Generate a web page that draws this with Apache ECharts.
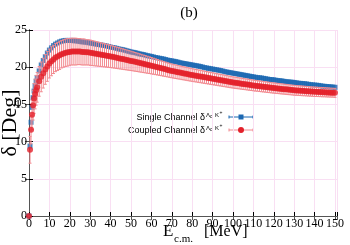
<!DOCTYPE html>
<html>
<head>
<meta charset="utf-8">
<script src="https://cdn.jsdelivr.net/npm/echarts@6/dist/echarts.min.js"></script>
<style>html,body{margin:0;padding:0;background:#fff}#c{width:350px;height:245px}</style>
</head>
<body>
<div id="c"></div>
<script>
// Energy grid (MeV)
var energies = [0,0.5,1,1.5,2,2.5,3,3.5,
  4,5,6,7,8,9,10,11,12,13,14,15,16,17,18,19,20,21,22,23,24,25,26,27,28,29,30,
  31,32,33,34,35,36,37,38,39,40,
  41,42,43,44,45,46,47,48,49,50,
  51,52,53,54,55,56,57,58,59,60,
  61,62,63,64,65,66,67,68,69,70,
  71,72,73,74,75,76,77,78,79,80,
  81,82,83,84,85,86,87,88,89,90,
  91,92,93,94,95,96,97,98,99,100,
  101,102,103,104,105,106,107,108,109,110,
  111,112,113,114,115,116,117,118,119,120,
  121,122,123,124,125,126,127,128,129,130,
  131,132,133,134,135,136,137,138,139,140,
  141,142,143,144,145,146,147,148,149,150];
// Single channel phase shift (deg)
var singleChannel = [0,9.4,12.6,14.6,15.9,16.8,17.5,18.1,
  18.6,19.5,20.3,20.9,21.4,21.9,22.3,22.6,22.9,23.1,23.25,23.4,23.5,23.55,23.6,23.6,23.6,23.6,23.55,23.55,23.5,23.45,23.4,23.4,23.35,23.3,23.25,
  23.2,23.15,23.1,23.05,23.0,22.95,22.9,22.85,22.78,22.7,
  22.65,22.6,22.53,22.45,22.4,22.35,22.28,22.2,22.13,22.05,
  22.0,21.95,21.88,21.8,21.75,21.7,21.63,21.55,21.5,21.45,
  21.38,21.3,21.25,21.2,21.15,21.1,21.03,20.95,20.9,20.85,
  20.8,20.75,20.68,20.6,20.55,20.5,20.45,20.4,20.35,20.3,
  20.25,20.2,20.15,20.1,20.03,19.95,19.9,19.85,19.8,19.75,
  19.7,19.65,19.6,19.55,19.48,19.4,19.35,19.3,19.25,19.2,
  19.15,19.1,19.05,19.0,18.95,18.9,18.85,18.8,18.75,18.7,
  18.65,18.6,18.58,18.55,18.5,18.45,18.4,18.35,18.33,18.3,
  18.25,18.2,18.18,18.15,18.1,18.05,18.03,18.0,17.98,17.95,
  17.9,17.85,17.83,17.8,17.78,17.75,17.7,17.65,17.63,17.6,
  17.58,17.55,17.5,17.45,17.43,17.4,17.38,17.35,17.33,17.3];
// Coupled channel phase shift (deg)
var coupledChannel = [0,8.9,11.6,13.6,14.9,15.8,16.4,16.9,
  17.3,18.1,18.7,19.2,19.7,20.1,20.5,20.8,21.05,21.3,21.45,21.6,21.75,21.85,21.95,22.0,22.05,22.1,22.1,22.1,22.1,22.1,22.05,22.05,22.0,22.0,21.95,
  21.9,21.85,21.8,21.75,21.7,21.65,21.6,21.55,21.5,21.45,
  21.39,21.33,21.27,21.21,21.15,21.09,21.03,20.97,20.91,20.85,
  20.79,20.72,20.66,20.59,20.53,20.46,20.4,20.33,20.27,20.2,
  20.13,20.06,19.99,19.92,19.85,19.78,19.71,19.64,19.57,19.5,
  19.44,19.39,19.33,19.28,19.22,19.17,19.11,19.06,19.0,18.95,
  18.9,18.85,18.8,18.75,18.7,18.65,18.6,18.55,18.5,18.45,
  18.4,18.35,18.3,18.25,18.2,18.15,18.1,18.05,18.0,17.95,
  17.91,17.87,17.83,17.79,17.75,17.71,17.67,17.63,17.59,17.55,
  17.51,17.48,17.44,17.41,17.37,17.34,17.3,17.27,17.23,17.2,
  17.17,17.14,17.11,17.08,17.05,17.02,16.99,16.96,16.93,16.9,
  16.88,16.86,16.84,16.82,16.8,16.78,16.76,16.74,16.72,16.7,
  16.69,16.67,16.66,16.64,16.63,16.61,16.6,16.58,16.57,16.55];
// Coupled channel uncertainty (deg)
var coupledError = [0,1.8,1.9,2.0,2.0,2.0,2.0,2.0,
  2.0,2.0,2.0,2.0,2.0,2.0,1.95,1.95,1.9,1.9,1.9,1.9,1.85,1.85,1.85,1.85,1.8,1.8,1.8,1.8,1.75,1.75,1.75,1.75,1.7,1.7,1.7,
  1.68,1.66,1.64,1.62,1.6,1.58,1.56,1.54,1.52,1.5,
  1.48,1.46,1.44,1.42,1.4,1.38,1.36,1.34,1.32,1.3,
  1.28,1.26,1.24,1.22,1.2,1.18,1.16,1.14,1.12,1.1,
  1.08,1.06,1.04,1.02,1.0,0.99,0.97,0.95,0.94,0.92,
  0.91,0.91,0.9,0.89,0.89,0.88,0.87,0.87,0.86,0.85,
  0.85,0.84,0.84,0.83,0.83,0.82,0.82,0.81,0.81,0.8,
  0.8,0.79,0.79,0.78,0.78,0.77,0.77,0.76,0.76,0.75,
  0.75,0.75,0.74,0.74,0.74,0.73,0.73,0.73,0.72,0.72,
  0.72,0.71,0.71,0.71,0.7,0.7,0.7,0.69,0.69,0.69,
  0.69,0.68,0.68,0.68,0.67,0.67,0.67,0.66,0.66,0.66,
  0.66,0.65,0.65,0.65,0.64,0.64,0.64,0.63,0.63,0.63,
  0.63,0.62,0.62,0.62,0.61,0.61,0.61,0.6,0.6,0.6];
var xTicks = [0,10,20,30,40,50,60,70,80,90,100,110,120,130,140,150];
var yTicks = [0,5,10,15,20,25];

var BLUE = '#1c68b2', RED = '#e3202a', PINK = '#f28a90';
var SERIF = '"Liberation Serif", "DejaVu Serif", serif';
var SANS = '"Liberation Sans", Arial, sans-serif';

var singleData = energies.map(function (e, i) { return [e, singleChannel[i]]; });
var coupledData = energies.map(function (e, i) { return [e, coupledChannel[i]]; });
var errData = energies.map(function (e, i) { return [e, coupledChannel[i] - coupledError[i], coupledChannel[i] + coupledError[i]]; });

var chart = echarts.init(document.getElementById('c'), null, {renderer: 'canvas'});
var gridLine = {show: true, lineStyle: {color: '#f9dff3', width: 1}};
var option = {
  animation: false,
  backgroundColor: '#fff',
  grid: {left: 29, right: 13, top: 30, bottom: 29},
  xAxis: [{
    type: 'value', min: 0, max: 151, interval: 10,
    axisLine: {lineStyle: {color: '#000', width: 1}},
    axisTick: {inside: true, length: 4, lineStyle: {color: '#000'}},
    axisLabel: {fontFamily: SERIF, fontSize: 12, color: '#000', margin: 2,
      formatter: function (v) { return xTicks.indexOf(v) >= 0 ? String(v) : ''; }},
    splitLine: gridLine
  }, {
    type: 'value', position: 'top', min: 0, max: 151, interval: 10,
    axisLine: {show: true, lineStyle: {color: '#555', width: 1}},
    axisTick: {inside: true, length: 4, lineStyle: {color: '#555'}},
    axisLabel: {show: false}, splitLine: {show: false}
  }],
  yAxis: [{
    type: 'value', min: 0, max: 25, interval: 5,
    axisLine: {show: true, lineStyle: {color: '#000', width: 1}},
    axisTick: {show: true, inside: true, length: 4, lineStyle: {color: '#000'}},
    axisLabel: {fontFamily: SERIF, fontSize: 12, color: '#000', margin: 2,
      formatter: function (v) { return yTicks.indexOf(v) >= 0 ? String(v) : ''; }},
    splitLine: gridLine
  }, {
    type: 'value', position: 'right', min: 0, max: 25, interval: 5,
    axisLine: {show: true, lineStyle: {color: '#555', width: 1}},
    axisTick: {show: true, inside: true, length: 4, lineStyle: {color: '#555'}},
    axisLabel: {show: false}, splitLine: {show: false}
  }],
  series: [{
    name: 'single', type: 'scatter', data: singleData, symbol: 'rect', symbolSize: 5,
    itemStyle: {color: BLUE}, clip: false, z: 2
  }, {
    name: 'coupledErr', type: 'custom', data: errData, z: 3, clip: false,
    renderItem: function (params, api) {
      var x = api.value(0);
      var lo = api.coord([x, api.value(1)]);
      var hi = api.coord([x, api.value(2)]);
      var w = 1.5;
      var st = {stroke: PINK, lineWidth: 1};
      return {type: 'group', children: [
        {type: 'line', shape: {x1: lo[0], y1: lo[1], x2: hi[0], y2: hi[1]}, style: st},
        {type: 'line', shape: {x1: lo[0] - w, y1: lo[1], x2: lo[0] + w, y2: lo[1]}, style: st},
        {type: 'line', shape: {x1: hi[0] - w, y1: hi[1], x2: hi[0] + w, y2: hi[1]}, style: st}
      ]};
    },
    encode: {x: 0, y: [1, 2]}
  }, {
    name: 'coupled', type: 'scatter', data: coupledData, symbol: 'circle', symbolSize: 6,
    itemStyle: {color: RED}, clip: false, z: 4
  }],
  graphic: [
    {type: 'text', x: 189, y: 13, style: {text: '(b)', font: '15px ' + SERIF, fill: '#000', align: 'center', verticalAlign: 'middle'}},
    // y axis name
    {type: 'text', x: 10, y: 123, rotation: Math.PI / 2, style: {text: 'δ [Deg]', font: '22px ' + SERIF, fill: '#000', align: 'center', verticalAlign: 'middle'}},
    // x axis name
    {type: 'text', x: 163, y: 240, style: {text: 'E', font: '17px ' + SERIF, fill: '#000', align: 'left', verticalAlign: 'bottom'}},
    {type: 'text', x: 174, y: 245, style: {text: 'c.m.', font: '11px ' + SERIF, fill: '#000', align: 'left', verticalAlign: 'bottom'}},
    {type: 'text', x: 204, y: 240, style: {text: '[MeV]', font: '16px ' + SERIF, fill: '#000', align: 'left', verticalAlign: 'bottom'}},
    // legend row 1
    {type: 'text', x: 205, y: 118, style: {text: 'Single Channel δ', font: '9px ' + SANS, fill: '#000', align: 'right', verticalAlign: 'middle'}},
    {type: 'text', x: 206, y: 115, style: {text: 'Λ', font: '6px ' + SANS, fill: '#000', align: 'left', verticalAlign: 'middle'}},
    {type: 'text', x: 210, y: 117, style: {text: 'c', font: '5px ' + SANS, fill: '#000', align: 'left', verticalAlign: 'middle'}},
    {type: 'text', x: 215, y: 115, style: {text: 'K', font: '6px ' + SANS, fill: '#000', align: 'left', verticalAlign: 'middle'}},
    {type: 'text', x: 219.5, y: 113, style: {text: '+', font: '5px ' + SANS, fill: '#000', align: 'left', verticalAlign: 'middle'}},
    {type: 'line', shape: {x1: 229, y1: 117, x2: 253, y2: 117}, style: {stroke: BLUE, lineWidth: 1}},
    {type: 'line', shape: {x1: 229, y1: 115.5, x2: 229, y2: 118.5}, style: {stroke: BLUE, lineWidth: 1}},
    {type: 'line', shape: {x1: 253, y1: 115.5, x2: 253, y2: 118.5}, style: {stroke: BLUE, lineWidth: 1}},
    {type: 'rect', shape: {x: 238.5, y: 114.5, width: 5, height: 5}, style: {fill: BLUE}},
    // legend row 2
    {type: 'text', x: 205, y: 131, style: {text: 'Coupled Channel δ', font: '9px ' + SANS, fill: '#000', align: 'right', verticalAlign: 'middle'}},
    {type: 'text', x: 206, y: 128, style: {text: 'Λ', font: '6px ' + SANS, fill: '#000', align: 'left', verticalAlign: 'middle'}},
    {type: 'text', x: 210, y: 130, style: {text: 'c', font: '5px ' + SANS, fill: '#000', align: 'left', verticalAlign: 'middle'}},
    {type: 'text', x: 215, y: 128, style: {text: 'K', font: '6px ' + SANS, fill: '#000', align: 'left', verticalAlign: 'middle'}},
    {type: 'text', x: 219.5, y: 126, style: {text: '+', font: '5px ' + SANS, fill: '#000', align: 'left', verticalAlign: 'middle'}},
    {type: 'line', shape: {x1: 229, y1: 130, x2: 253, y2: 130}, style: {stroke: PINK, lineWidth: 1}},
    {type: 'line', shape: {x1: 229, y1: 128.5, x2: 229, y2: 131.5}, style: {stroke: PINK, lineWidth: 1}},
    {type: 'line', shape: {x1: 253, y1: 128.5, x2: 253, y2: 131.5}, style: {stroke: PINK, lineWidth: 1}},
    {type: 'circle', shape: {cx: 241, cy: 130, r: 3}, style: {fill: RED}}
  ]
};
chart.setOption(option);
</script>
</body>
</html>
